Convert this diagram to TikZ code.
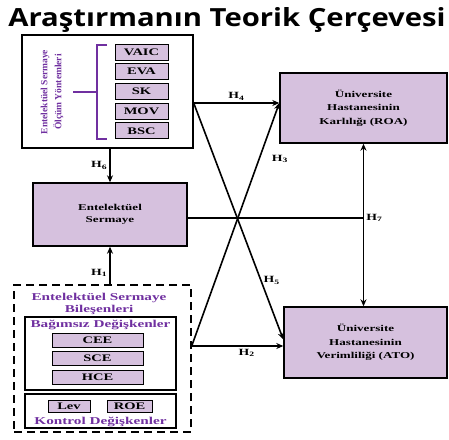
\documentclass[tikz,border=0pt]{standalone}
\usepackage{fontspec}
\setmainfont{Liberation Serif}
\newfontfamily\titlefont[FakeStretch=1.17]{Open Sans}
\newfontfamily\widefont[FakeStretch=1.45]{Liberation Serif}
\usetikzlibrary{arrows.meta,positioning}
\definecolor{boxfill}{RGB}{214,193,222}
\definecolor{txtpurple}{RGB}{112,48,160}

\begin{document}
\begin{tikzpicture}[x=1pt, y=-1pt,
  box/.style={draw, line width=1.4pt, fill=boxfill, align=center, inner sep=0,
    font=\widefont\bfseries\fontsize{9}{13.5}\selectfont},
  item/.style={draw, line width=0.7pt, fill=boxfill, inner sep=0,
    font=\widefont\bfseries\fontsize{10}{11}\selectfont},
  frame/.style={draw, line width=1.4pt, inner sep=0},
  plabel/.style={text=txtpurple, align=center, font=\widefont\bfseries\fontsize{10.5}{12}\selectfont},
  arrow/.style={-{Stealth[length=7pt,width=6pt]}, line width=1.6pt},
  hlab/.style={font=\widefont\bfseries\fontsize{9.5}{10}\selectfont, inner sep=2pt}
]
  \useasboundingbox (0,0) rectangle (449,439);

  % Title
  \node[font=\titlefont\bfseries\fontsize{25}{28}\selectfont] (title) at (227,20)
    {Araştırmanın Teorik Çerçevesi};

  % Measurement methods
  \node[frame, minimum width=171, minimum height=113] (meth) at (107.5,91.5) {};
  \node[text=txtpurple, align=center, rotate=90, font=\bfseries\fontsize{9.5}{14}\selectfont]
    (methlab) at (52,92) {Entelektüel Sermaye\\Ölçüm Yöntemleri};
  \draw[txtpurple, line width=1.2pt] (107,45) -- (97,45) -- (97,139) -- (107,139);
  \draw[txtpurple, line width=1.2pt] (73,92) -- (97,92);
  \foreach \i/\t in {1/VAIC,2/EVA,3/SK,4/MOV,5/BSC} {
    \node[item, minimum width=53, minimum height=16] (m\i) at (141.5,{52+19.7*(\i-1)}) {\t};
  }

  % Intellectual capital
  \node[box, minimum width=154, minimum height=63,
    font=\widefont\bfseries\fontsize{9}{11.5}\selectfont] (es) at (110,214.5) {Entelektüel\\Sermaye};

  % Components
  \node[draw, dashed, dash pattern=on 8pt off 5pt, line width=1.4pt,
    minimum width=177, minimum height=147, inner sep=0] (comp) at (102.5,358.5) {};
  \node[plabel] (complab) at (99,304) {Entelektüel Sermaye\\Bileşenleri};
  \node[frame, minimum width=151, minimum height=73] (bag) at (100.5,353.5) {};
  \node[plabel] (baglab) at (100.5,325) {Bağımsız Değişkenler};
  \foreach \i/\t/\y in {1/CEE/340,2/SCE/358.5,3/HCE/377.5} {
    \node[item, minimum width=91, minimum height=14] (v\i) at (97.5,\y) {\t};
  }
  \node[frame, minimum width=151, minimum height=34] (ctrl) at (100.5,411) {};
  \node[item, minimum width=42, minimum height=12] (lev) at (69,406) {Lev};
  \node[item, minimum width=45, minimum height=12] (roe) at (129.5,406) {ROE};
  \node[plabel] (ctrllab) at (100.5,421.5) {Kontrol Değişkenler};

  % Outcomes
  \node[box, minimum width=167, minimum height=70] (roa) at (363.5,108)
    {Üniversite\\Hastanesinin\\Karlılığı (ROA)};
  \node[box, minimum width=163, minimum height=71] (ato) at (365.5,342.5)
    {Üniversite\\Hastanesinin\\Verimliliği (ATO)};

  % Connections
  \coordinate (a) at ([yshift=-11.5pt]meth.east);
  \coordinate (b) at ([yshift=12.5pt]comp.east);
  \draw[arrow] (meth.south -| es.north) -- (es.north) node[midway, left, hlab] {H\textsubscript{6}};
  \draw[arrow] (comp.north -| es.south) -- (es.south) node[pos=0.3, left, hlab] {H\textsubscript{1}};
  \draw[arrow] (a) -- ([yshift=5pt]roa.west) node[midway, above, hlab] {H\textsubscript{4}};
  \draw[arrow] (a) -- ([yshift=3pt]ato.west) node[pos=0.75, right, hlab] {H\textsubscript{5}};
  \draw[arrow] (b) -- ([yshift=5pt]roa.west) node[pos=0.77, right, xshift=10pt, hlab] {H\textsubscript{3}};
  \draw[arrow] (b) -- (b -| ato.west) node[pos=0.6, below, hlab] {H\textsubscript{2}};
  \draw[line width=1.6pt] ([yshift=-3.5pt]es.east) -- ([yshift=-3.5pt]es.east -| roa.south)
    node[right, hlab] {H\textsubscript{7}};
  \draw[arrow, {Stealth[length=7pt,width=6pt]}-{Stealth[length=7pt,width=6pt]}]
    (roa.south) -- (roa.south |- ato.north);
\end{tikzpicture}
\end{document}
